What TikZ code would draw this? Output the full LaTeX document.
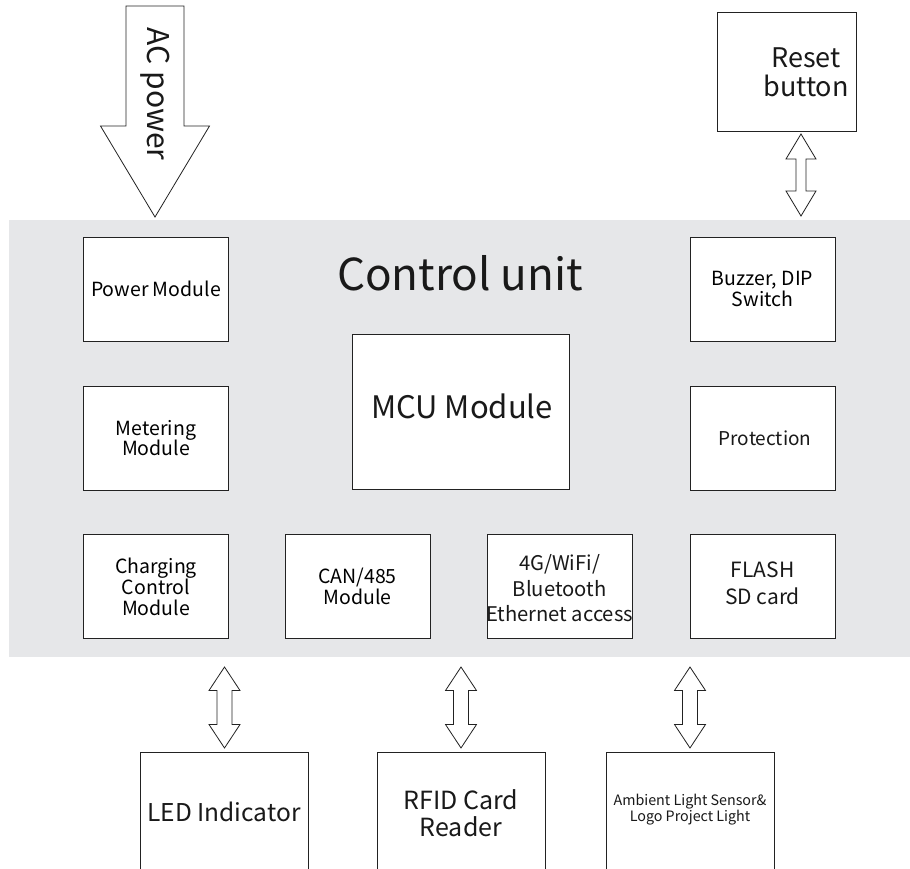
\documentclass[tikz,border=0pt]{standalone}
\usepackage{fontspec}
\setmainfont{Noto Sans CJK SC}
\usetikzlibrary{calc}
\definecolor{panelgray}{HTML}{E6E7E9}
\definecolor{edge}{HTML}{222222}
\newcommand\fs[2]{\fontsize{#1}{#2}\selectfont}
% double block arrow between two named coordinates (top tip, bottom tip)
\newcommand\dblarrow[5]{%
  \draw[blockarrow] let \p1=(#1), \p2=(#2) in
    (\x1,\y1) -- (\x1+#3,\y1-#5) -- (\x1+#4,\y1-#5) -- (\x1+#4,\y2+#5)
    -- (\x1+#3,\y2+#5) -- (\x1,\y2) -- (\x1-#3,\y2+#5) -- (\x1-#4,\y2+#5)
    -- (\x1-#4,\y1-#5) -- (\x1-#3,\y1-#5) -- cycle;}
\begin{document}
\begin{tikzpicture}[x=1pt,y=-1pt,
  box/.style={draw=edge, line width=0.9pt, fill=white, inner sep=0pt, align=center},
  lbl/.style={inner sep=0pt, align=center, text=black!90},
  blockarrow/.style={draw=edge, line width=0.8pt, fill=white, line join=miter}]
\clip (0,0) rectangle (910,869);
\fill[white] (0,0) rectangle (910,869);
% control unit panel
\node[fill=panelgray, inner sep=0pt, minimum width=901pt, minimum height=437pt] (panel) at (459.5,438.5) {};
\node[lbl, font=\fs{44}{48}] (title) at (460,273) {Control unit};

% inner modules
\node[box, minimum width=145pt, minimum height=104pt, font=\fs{19.5}{21}] (power) at (156,289) {Power Module};
\node[box, minimum width=145pt, minimum height=104pt, font=\fs{19.5}{20.5}] (meter) at (156,438) {Metering\\Module};
\node[box, minimum width=145pt, minimum height=104pt, font=\fs{19.5}{21}] (charge) at (156,586.5) {Charging\\Control\\Module};
\node[box, minimum width=145pt, minimum height=104pt, font=\fs{19.5}{20.5}] (can) at (357.5,586.5) {CAN/485\\Module};
\node[box, minimum width=145pt, minimum height=104pt] (wifi) at (559.5,586.5) {};
\node[lbl, font=\fs{20.2}{25.5}] (wifit) at (559.5,588.5) {4G/WiFi/\\Bluetooth\\Ethernet access};
\node[box, minimum width=145pt, minimum height=104pt] (flash) at (762.5,586.5) {};
\node[lbl, font=\fs{21}{27}] (flasht) at (762.5,583.5) {FLASH\\SD card};
\node[box, minimum width=145pt, minimum height=104pt, font=\fs{19.5}{20.5}] (buzz) at (762.5,289) {Buzzer, DIP\\Switch};
\node[box, minimum width=145pt, minimum height=104pt] (prot) at (762.5,438) {};
\node[lbl, font=\fs{19}{20}] (prott) at (765,438) {Protection};
\node[box, minimum width=217pt, minimum height=155pt] (mcu) at (460.5,411.5) {};
\node[lbl, font=\fs{31}{34}] (mcut) at (462,406) {MCU Module};

% reset button
\node[box, minimum width=139pt, minimum height=119pt] (reset) at (786.5,71.5) {};
\node[lbl, font=\fs{27}{29.5}] (resett) at (806,72.5) {Reset\\button};
\coordinate (rtop) at (801,134);
\coordinate (rbot) at (801,216);
\dblarrow{rtop}{rbot}{15}{5}{25}

% AC power arrow
\coordinate (acshaft) at (155,6);
\coordinate (actip) at (155,217);
\draw[blockarrow] let \p1=(acshaft), \p2=(actip) in
  (\x1-29,\y1) -- (\x1+29,\y1) -- (\x1+29,\y2+91) -- (\x1+54.5,\y2+91)
  -- (\x2,\y2) -- (\x1-54.5,\y2+91) -- (\x1-29,\y2+91) -- cycle;
\node[lbl, rotate=-90, font=\fs{30}{32}] (ac) at (155,94) {AC power};

% bottom peripherals
\node[box, minimum width=168pt, minimum height=140pt, anchor=north] (led) at (224,752) {};
\node[lbl, font=\fs{24.5}{28}] (ledt) at (224,812) {LED Indicator};
\node[box, minimum width=168pt, minimum height=140pt, anchor=north] (rfid) at (461,752) {};
\node[lbl, font=\fs{25}{27}] (rfidt) at (461,813.5) {RFID Card\\Reader};
\node[box, minimum width=168pt, minimum height=140pt, anchor=north] (amb) at (690,752) {};
\node[lbl, font=\fs{14.3}{15.5}] (ambt) at (690,809.5) {Ambient Light Sensor\&\\Logo Project Light};

\coordinate (l1t) at (224.5,667); \coordinate (l1b) at (224.5,748);
\coordinate (l2t) at (461,667); \coordinate (l2b) at (461,748);
\coordinate (l3t) at (690,667); \coordinate (l3b) at (690,748);
\dblarrow{l1t}{l1b}{15.5}{7.5}{23.5}
\dblarrow{l2t}{l2b}{15.5}{7.5}{23.5}
\dblarrow{l3t}{l3b}{15.5}{7.5}{23.5}
\end{tikzpicture}
\end{document}
